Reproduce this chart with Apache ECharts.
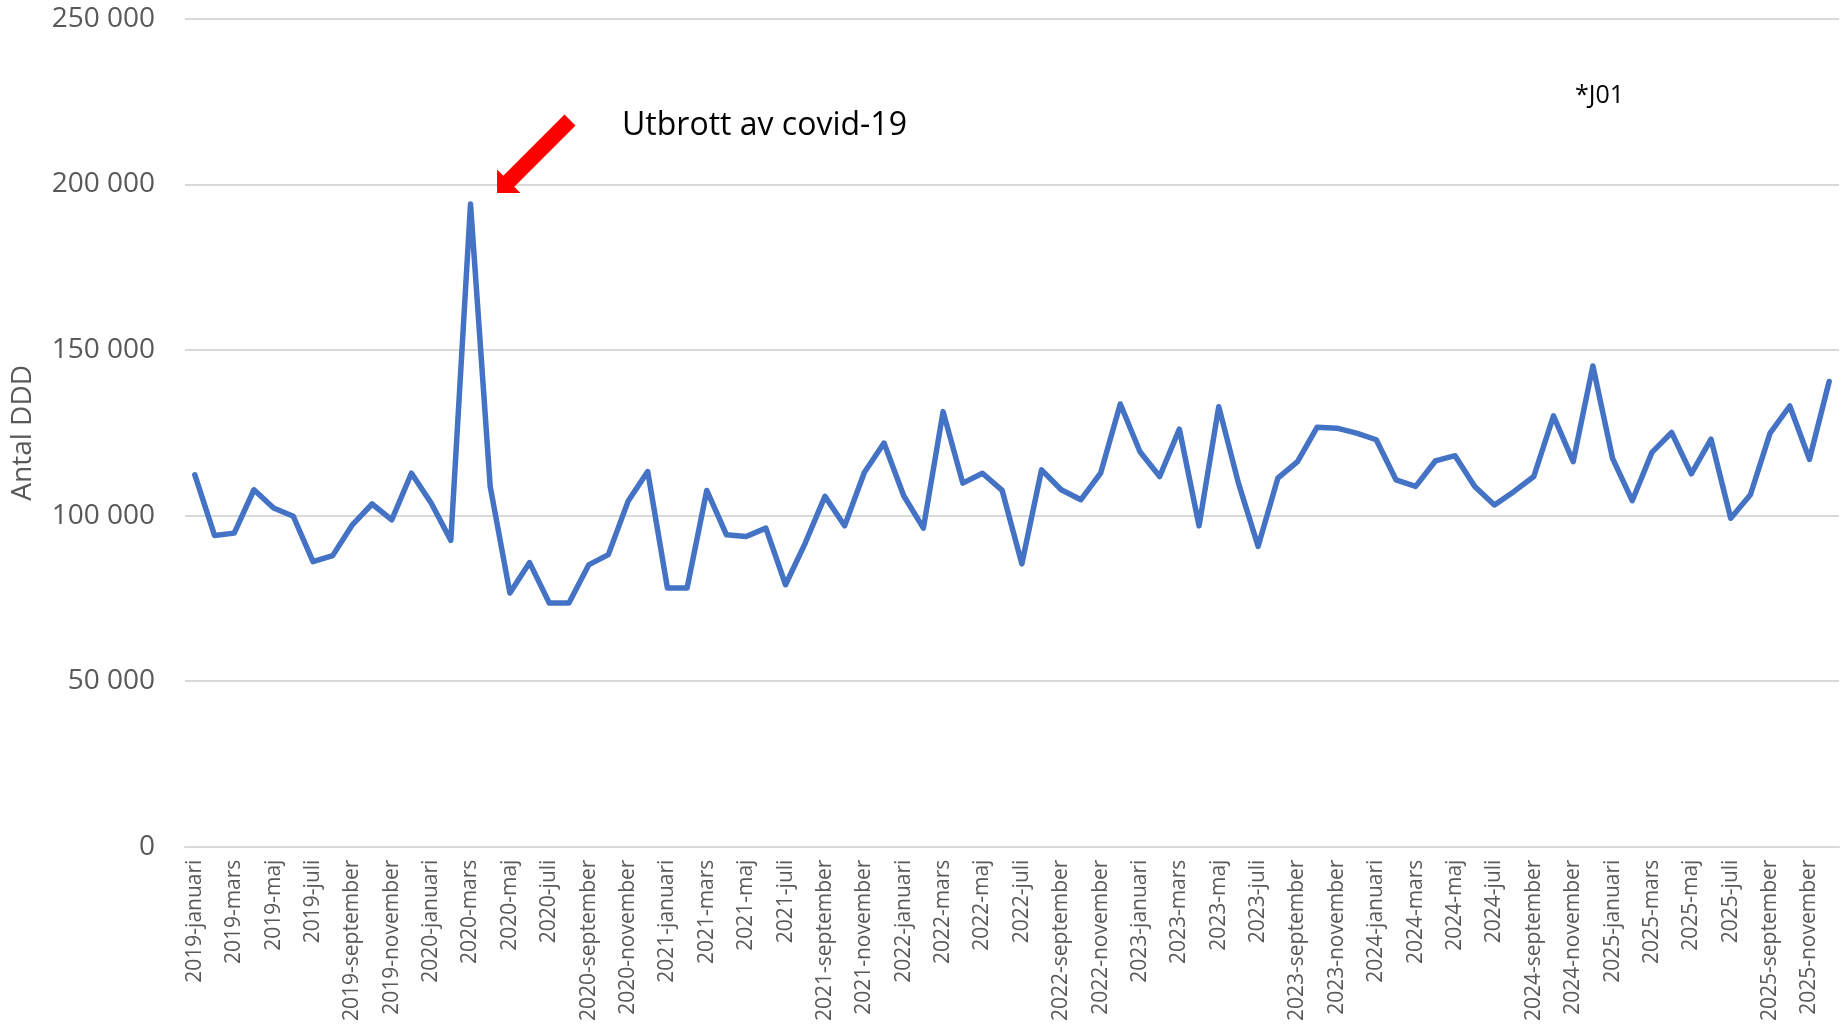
<!DOCTYPE html>
<html>
<head>
<meta charset="utf-8">
<title>Antal DDD J01</title>
<script src="https://cdn.jsdelivr.net/npm/echarts@6/dist/echarts.min.js"></script>
<style>
  html, body { margin: 0; padding: 0; background: #fff; }
  #chart { width: 1847px; height: 1024px; }
</style>
</head>
<body>
<div id="chart"></div>
<script>
// months shown on the x axis, 2019-januari .. 2025-december
const years = [2019, 2020, 2021, 2022, 2023, 2024, 2025];
const monthNames = ["januari", "februari", "mars", "april", "maj", "juni",
  "juli", "augusti", "september", "oktober", "november", "december"];

// monthly DDD
const ddd2019 = [112300, 94000, 94700, 107800, 102300, 99800, 86100, 87900, 97200, 103500, 98700, 112800];
const ddd2020 = [103800, 92500, 194100, 108800, 76600, 85800, 73600, 73600, 85100, 88200, 104300, 113300];
const ddd2021 = [78100, 78100, 107600, 94200, 93700, 96200, 79100, 91700, 105800, 96900, 113000, 121900];
const ddd2022 = [106000, 96200, 131400, 109800, 112800, 107600, 85400, 113800, 107800, 104800, 112800, 133700];
const ddd2023 = [119300, 111800, 126100, 96900, 132900, 109800, 90700, 111300, 116300, 126700, 126400, 124900];
const ddd2024 = [122900, 110800, 108800, 116500, 118100, 108800, 103200, 107300, 111800, 130100, 116300, 145200];
const ddd2025 = [117300, 104500, 119100, 125100, 112600, 123100, 99200, 106300, 124900, 133100, 117000, 140500];

const yTicks = [0, 50000, 100000, 150000, 200000, 250000];

const categories = [];
years.forEach((y) => monthNames.forEach((m) => categories.push(`${y}-${m}`)));
const values = [...ddd2019, ...ddd2020, ...ddd2021, ...ddd2022, ...ddd2023, ...ddd2024, ...ddd2025];

const GREY = "#595959";
const GRID = "#d9d9d9";
const FONT = "'Open Sans', sans-serif";

function fmtThousands(v) {
  return String(v).replace(/\B(?=(\d{3})+(?!\d))/g, " ");
}

// red annotation arrow, pointing down-left at the March 2020 peak
function arrowPoints() {
  const tail = [570, 120];
  const u = [-Math.SQRT1_2, Math.SQRT1_2];
  const v = [Math.SQRT1_2, Math.SQRT1_2];
  const shaft = 86.6, head = 16.6, half = 7.8, barb = 16.5;
  const local = [[0, -half], [shaft, -half], [shaft, -barb], [shaft + head, 0],
    [shaft, barb], [shaft, half], [0, half]];
  return local.map(([a, b]) => [tail[0] + a * u[0] + b * v[0], tail[1] + a * u[1] + b * v[1]]);
}

const chart = echarts.init(document.getElementById("chart"));
chart.setOption({
  backgroundColor: "#fff",
  animation: false,
  grid: { left: 185, right: 8, top: 19, bottom: 177, containLabel: false },
  xAxis: {
    type: "category",
    data: categories,
    boundaryGap: true,
    axisLine: { lineStyle: { color: GRID, width: 2 } },
    axisTick: { interval: 1, length: 6, lineStyle: { color: GRID, width: 2 } },
    axisLabel: {
      interval: 1,
      rotate: 90,
      margin: 13,
      color: GREY,
      fontFamily: FONT,
      fontSize: 21,
    },
  },
  yAxis: {
    type: "value",
    min: yTicks[0],
    max: yTicks[yTicks.length - 1],
    interval: yTicks[1] - yTicks[0],
    name: "Antal DDD",
    nameLocation: "middle",
    nameGap: 148,
    nameTextStyle: { color: GREY, fontFamily: FONT, fontSize: 28 },
    axisLine: { show: false },
    axisTick: { show: false },
    axisLabel: {
      margin: 30,
      color: GREY,
      fontFamily: FONT,
      fontSize: 28,
      formatter: fmtThousands,
    },
    splitLine: { lineStyle: { color: GRID, width: 2 } },
  },
  series: [
    {
      type: "line",
      data: values,
      symbol: "none",
      smooth: false,
      lineStyle: { color: "#4472C4", width: 5.5, join: "round", cap: "round" },
    },
  ],
  graphic: [
    {
      type: "polygon",
      shape: { points: arrowPoints() },
      style: { fill: "#ff0000" },
      z: 10,
    },
    {
      type: "text",
      left: 622,
      top: 110,
      style: { text: "Utbrott av covid-19", fill: "#000", font: `32px ${FONT}` },
      z: 10,
    },
    {
      type: "text",
      left: 1575,
      top: 83,
      style: { text: "*J01", fill: "#000", font: `25px ${FONT}` },
      z: 10,
    },
  ],
});
</script>
</body>
</html>
